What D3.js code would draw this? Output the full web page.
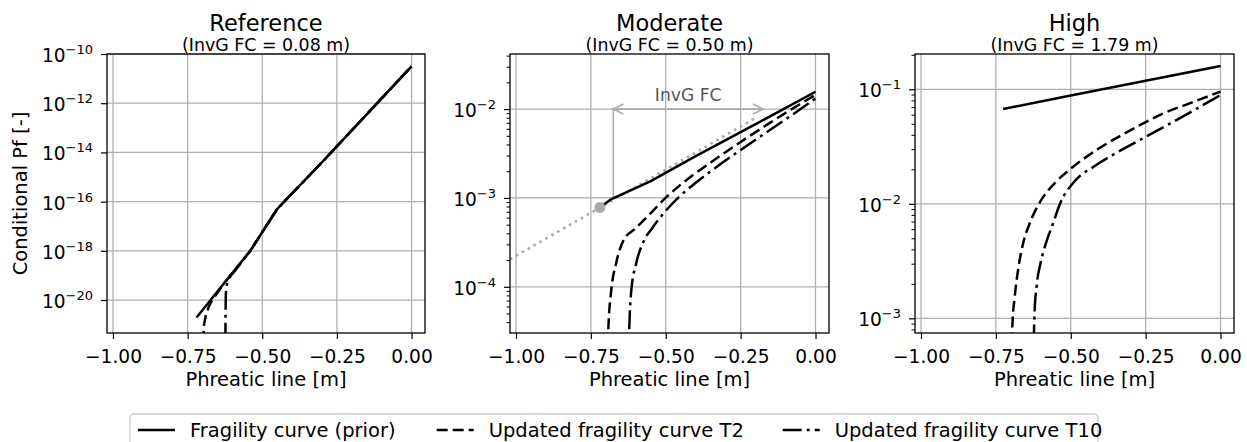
<!DOCTYPE html>
<html>
<head>
<meta charset="utf-8">
<script src="https://cdn.jsdelivr.net/npm/d3@7"></script>
<style>
  body { margin: 0; background: #fff; }
  svg { display: block; }
  text { font-family: "DejaVu Sans", "Liberation Sans", sans-serif; fill: #000; }
</style>
</head>
<body>
<svg id="chart" width="1247" height="442"></svg>
<script>
// ---- data -----------------------------------------------------------
// Each series is a list of [phreatic line (m), log10 of conditional Pf].
const panelTitles = ["Reference", "Moderate", "High"];
const invgFC = [0.08, 0.50, 1.79];          // InvG FC per scenario (m)
const xTickValues = [-1.0, -0.75, -0.5, -0.25, 0.0];

const refMajorExp = [-20, -18, -16, -14, -12, -10];
const modMajorExp = [-4, -3, -2];
const highMajorExp = [-3, -2, -1];

const refPrior = [[-0.72, -20.71], [-0.63, -19.35], [-0.54, -18.0], [-0.50, -17.24],
                  [-0.45, -16.3], [-0.30, -14.4], [-0.15, -12.45], [0.0, -10.5]];
const refT2 = [[-0.699, -23.0], [-0.698, -21.6], [-0.695, -21.0], [-0.689, -20.62],
               [-0.680, -20.3], [-0.670, -20.05], [-0.663, -19.92], [-0.63, -19.35],
               [-0.54, -18.0], [-0.50, -17.24], [-0.45, -16.3], [-0.30, -14.4],
               [-0.15, -12.45], [0.0, -10.5]];
const refT10 = [[-0.624, -23.0], [-0.623, -20.6], [-0.622, -19.75], [-0.619, -19.4],
                [-0.613, -19.15], [-0.605, -19.0], [-0.597, -18.9], [-0.54, -18.0],
                [-0.50, -17.24], [-0.45, -16.3], [-0.30, -14.4], [-0.15, -12.45], [0.0, -10.5]];

const modPrior = [[-0.72, -3.107], [-0.685, -3.02], [-0.55, -2.81], [-0.40, -2.53],
                  [-0.20, -2.17], [0.0, -1.805]];
const modT2 = [[-0.696, -5.2], [-0.692, -4.5], [-0.682, -4.04], [-0.666, -3.74],
               [-0.643, -3.49], [-0.60, -3.34], [-0.55, -3.17], [-0.507, -3.02],
               [-0.45, -2.85], [-0.40, -2.72], [-0.35, -2.60], [-0.25, -2.37],
               [-0.15, -2.15], [-0.05, -1.94], [0.0, -1.84]];
const modT10 = [[-0.625, -5.2], [-0.622, -4.5], [-0.615, -4.04], [-0.599, -3.74],
                [-0.574, -3.49], [-0.543, -3.33], [-0.504, -3.16], [-0.45, -2.97],
                [-0.40, -2.83], [-0.35, -2.70], [-0.25, -2.46], [-0.15, -2.23],
                [-0.05, -2.0], [0.0, -1.88]];

const highPrior = [[-0.726, -1.172], [-0.5, -1.055], [-0.25, -0.925], [0.0, -0.796]];
const highT2 = [[-0.699, -3.5], [-0.695, -3.07], [-0.687, -2.81], [-0.676, -2.58],
                [-0.659, -2.345], [-0.637, -2.17], [-0.606, -2.0], [-0.592, -1.94],
                [-0.55, -1.81], [-0.503, -1.70], [-0.414, -1.53], [-0.302, -1.36],
                [-0.19, -1.21], [-0.09, -1.11], [0.0, -1.02]];
const highT10 = [[-0.626, -3.5], [-0.621, -2.96], [-0.614, -2.72], [-0.601, -2.52],
                 [-0.583, -2.345], [-0.559, -2.17], [-0.536, -2.0], [-0.486, -1.80],
                 [-0.42, -1.67], [-0.358, -1.57], [-0.246, -1.41], [-0.134, -1.25],
                 [0.0, -1.05]];

// Moderate-scenario construction: start point of the prior, its extrapolation,
// and the InvG FC offset measured at Pf = 1e-2.
const modStartPoint = [-0.72, -3.107];
const modExtrapolation = [[-1.02, -3.69], [-0.20, -2.10]];
const invgArrowStart = -0.675;
const invgArrowLevel = -2.0;
const invgDropLevel = -3.0;

const legendLabels = ["Fragility curve (prior)", "Updated fragility curve T2", "Updated fragility curve T10"];

// ---- layout / style ---------------------------------------------------
const svg = d3.select("#chart");
const plotTop = 54, plotBottom = 333;
const xDomain = [-1.02, 0.045];
const panelX = [[107, 425], [510, 829], [915, 1234]];
const yExpRange = [[-21.34, -10.0], [-4.52, -1.38], [-3.128, -0.692]];
const majorExps = [refMajorExp, modMajorExp, highMajorExp];
const showMinor = [false, true, true];
const seriesSets = [[refPrior, refT2, refT10], [modPrior, modT2, modT10], [highPrior, highT2, highT10]];

const dashStyles = [null, "11,5", "19,5,3,5"];
const lineWidth = 2.5;
const gridColor = "#b0b0b0";
const annoColor = "#aaaaaa";

const defs = svg.append("defs");

function drawPanel(i) {
  const [L, R] = panelX[i];
  const x = d3.scaleLinear().domain(xDomain).range([L, R]);
  const y = d3.scaleLog()
    .domain([Math.pow(10, yExpRange[i][0]), Math.pow(10, yExpRange[i][1])])
    .range([plotBottom, plotTop]);
  const g = svg.append("g");

  const clipId = "clip" + i;
  defs.append("clipPath").attr("id", clipId)
    .append("rect").attr("x", L).attr("y", plotTop)
    .attr("width", R - L).attr("height", plotBottom - plotTop);

  // grid
  const grid = g.append("g");
  grid.selectAll("line.gx").data(xTickValues).join("line")
    .attr("x1", d => x(d)).attr("x2", d => x(d))
    .attr("y1", plotTop).attr("y2", plotBottom)
    .attr("stroke", gridColor).attr("stroke-width", 1.3);
  grid.selectAll("line.gy").data(majorExps[i]).join("line")
    .attr("x1", L).attr("x2", R)
    .attr("y1", d => y(Math.pow(10, d))).attr("y2", d => y(Math.pow(10, d)))
    .attr("stroke", gridColor).attr("stroke-width", 1.3);

  // x axis
  const xAxis = g.append("g").attr("transform", `translate(0,${plotBottom})`)
    .call(d3.axisBottom(x).tickValues(xTickValues).tickSize(6).tickFormat(d3.format(".2f")));
  xAxis.select(".domain").remove();
  xAxis.selectAll("line").attr("stroke", "#000").attr("stroke-width", 1.2);
  xAxis.selectAll("text").attr("y", 29.7).attr("dy", null)
    .style("font-size", "18.6px").attr("fill", "#000");

  // y axis major ticks with power-of-ten labels
  const majorVals = majorExps[i].map(e => Math.pow(10, e));
  const yAxis = g.append("g").attr("transform", `translate(${L},0)`)
    .call(d3.axisLeft(y).tickValues(majorVals).tickSize(6).tickFormat(""));
  yAxis.select(".domain").remove();
  yAxis.selectAll("line").attr("stroke", "#000").attr("stroke-width", 1.2);

  if (showMinor[i]) {
    const minors = [];
    const lo = Math.floor(yExpRange[i][0]), hi = Math.ceil(yExpRange[i][1]);
    for (let e = lo; e < hi; e++) {
      for (let m = 2; m <= 9; m++) {
        const v = m * Math.pow(10, e);
        const lv = Math.log10(v);
        if (lv > yExpRange[i][0] && lv < yExpRange[i][1]) minors.push(v);
      }
    }
    const yMinor = g.append("g").attr("transform", `translate(${L},0)`)
      .call(d3.axisLeft(y).tickValues(minors).tickSize(3.5).tickFormat(""));
    yMinor.select(".domain").remove();
    yMinor.selectAll("line").attr("stroke", "#000").attr("stroke-width", 1);
  }

  const labels = g.append("g");
  majorExps[i].forEach(e => {
    const t = labels.append("text")
      .attr("x", L - 14)
      .attr("y", y(Math.pow(10, e)) + 8)
      .attr("text-anchor", "end")
      .style("font-size", "18.6px");
    t.append("tspan").text("10");
    t.append("tspan").attr("dy", -8).style("font-size", "13px").text("\u2212" + Math.abs(e));
  });

  // x label
  g.append("text").attr("x", (L + R) / 2).attr("y", 386)
    .attr("text-anchor", "middle").style("font-size", "19.5px")
    .text("Phreatic line [m]");

  // titles
  g.append("text").attr("x", (L + R) / 2).attr("y", 31)
    .attr("text-anchor", "middle").style("font-size", "22.5px")
    .text(panelTitles[i]);
  g.append("text").attr("x", (L + R) / 2).attr("y", 50.5)
    .attr("text-anchor", "middle").style("font-size", "17.4px")
    .text(`(InvG FC = ${invgFC[i].toFixed(2)} m)`);

  const plot = g.append("g").attr("clip-path", `url(#${clipId})`);
  const linearLine = d3.line()
    .x(d => x(d[0]))
    .y(d => y(Math.pow(10, d[1])));
  const smoothLine = d3.line()
    .x(d => x(d[0]))
    .y(d => y(Math.pow(10, d[1])))
    .curve(d3.curveMonotoneX);

  // construction lines for the moderate scenario
  if (i === 1) {
    plot.append("path")
      .attr("d", linearLine(modExtrapolation))
      .attr("fill", "none").attr("stroke", annoColor).attr("stroke-width", 2.6)
      .attr("stroke-dasharray", "2.6,4.2");
    plot.append("line")
      .attr("x1", x(invgArrowStart)).attr("x2", x(invgArrowStart))
      .attr("y1", y(Math.pow(10, invgDropLevel))).attr("y2", y(Math.pow(10, invgArrowLevel)))
      .attr("stroke", annoColor).attr("stroke-width", 1.6);
    const ax0 = x(invgArrowStart), ax1 = x(invgArrowStart + invgFC[1]);
    const ay = y(Math.pow(10, invgArrowLevel));
    plot.append("line").attr("x1", ax0).attr("x2", ax1).attr("y1", ay).attr("y2", ay)
      .attr("stroke", annoColor).attr("stroke-width", 1.6);
    const head = (px, dir) => `M${px + dir * 10},${ay - 5}L${px},${ay}L${px + dir * 10},${ay + 5}`;
    plot.append("path").attr("d", head(ax0, 1)).attr("fill", "none")
      .attr("stroke", annoColor).attr("stroke-width", 1.6);
    plot.append("path").attr("d", head(ax1, -1)).attr("fill", "none")
      .attr("stroke", annoColor).attr("stroke-width", 1.6);
    g.append("text").attr("x", (ax0 + ax1) / 2).attr("y", ay - 8.5)
      .attr("text-anchor", "middle").style("font-size", "17.2px")
      .style("fill", "#555")
      .text("InvG FC");
  }

  // fragility curves: prior as straight segments, updated curves smoothed
  seriesSets[i].forEach((s, k) => {
    const gen = (k === 0 || i === 0) ? linearLine : smoothLine;
    const p = plot.append("path").attr("d", gen(s))
      .attr("fill", "none").attr("stroke", "#000").attr("stroke-width", lineWidth)
      .attr("stroke-linejoin", "round");
    if (dashStyles[k]) p.attr("stroke-dasharray", dashStyles[k]);
  });

  if (i === 1) {
    plot.append("circle")
      .attr("cx", x(modStartPoint[0])).attr("cy", y(Math.pow(10, modStartPoint[1])))
      .attr("r", 5.5).attr("fill", annoColor);
  }

  // frame
  g.append("rect").attr("x", L).attr("y", plotTop)
    .attr("width", R - L).attr("height", plotBottom - plotTop)
    .attr("fill", "none").attr("stroke", "#000").attr("stroke-width", 1.3);
}

[0, 1, 2].forEach(drawPanel);

// y-axis label
svg.append("text")
  .attr("transform", "translate(27,193.5) rotate(-90)")
  .attr("text-anchor", "middle").style("font-size", "19.5px")
  .text("Conditional Pf [-]");

// legend
const legend = svg.append("g");
legend.append("rect").attr("x", 130).attr("y", 414).attr("width", 968).attr("height", 40)
  .attr("rx", 4).attr("fill", "#fff").attr("stroke", "#cccccc").attr("stroke-width", 1.3);
const legendHandleX = [138, 436.7, 782.7];
legendLabels.forEach((lab, k) => {
  const hx = legendHandleX[k];
  const ln = legend.append("line").attr("x1", hx).attr("x2", hx + 37)
    .attr("y1", 430).attr("y2", 430)
    .attr("stroke", "#000").attr("stroke-width", lineWidth);
  if (dashStyles[k]) ln.attr("stroke-dasharray", dashStyles[k]);
  legend.append("text").attr("x", hx + 52).attr("y", 436.5)
    .style("font-size", "19.5px").text(lab);
});
</script>
</body>
</html>
